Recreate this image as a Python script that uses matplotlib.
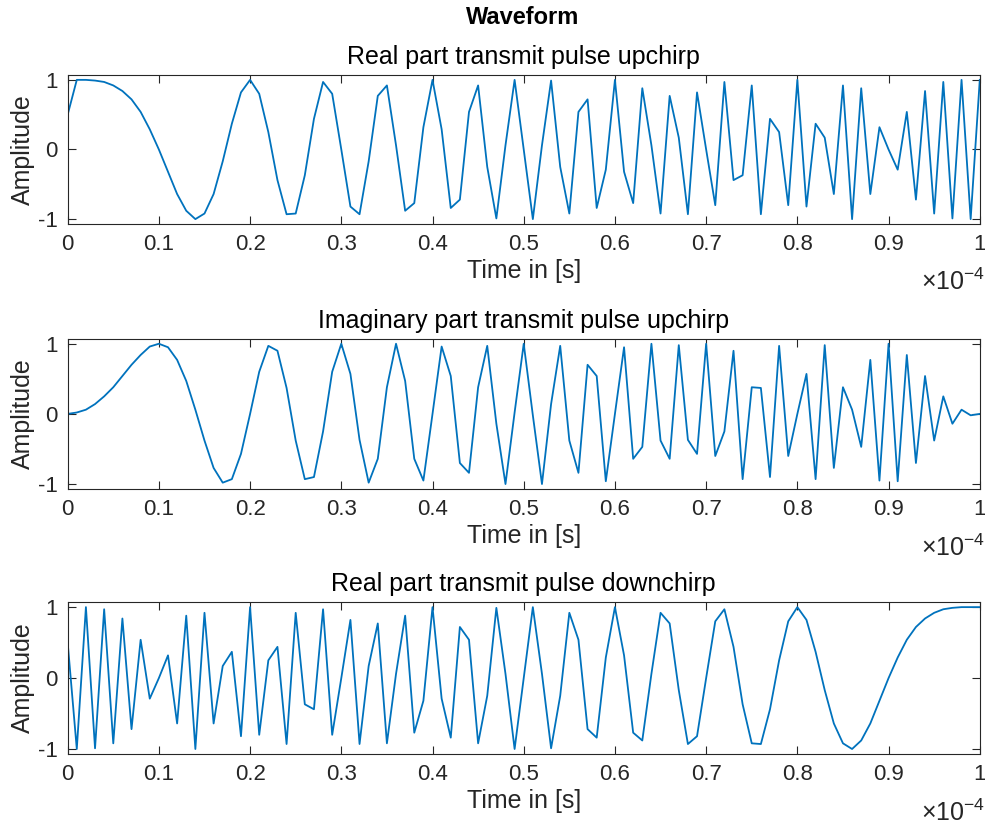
import numpy as np
import matplotlib.pyplot as plt
from matplotlib.ticker import FuncFormatter, MultipleLocator

plt.rcParams['font.family'] = ['Liberation Sans', 'DejaVu Sans']
plt.rcParams['axes.unicode_minus'] = False
plt.rcParams['mathtext.fontset'] = 'custom'
plt.rcParams['mathtext.rm'] = 'Liberation Sans'
plt.rcParams['mathtext.it'] = 'Liberation Sans'

# Sample times (1 MHz sampling, 101 samples)
t = np.arange(101) * 1e-6

# Real part of the upchirp
real_up = [0.50, 1.00, 1.00, 0.99, 0.97, 0.92, 0.84, 0.72, 0.54, 0.29,
           0.00, -0.32, -0.64, -0.88, -1.00, -0.92, -0.64, -0.17, 0.37, 0.82,
           1.00, 0.80, 0.25, -0.44, -0.93, -0.92, -0.37, 0.44, 0.97, 0.80,
           0.00, -0.82, -0.93, -0.17, 0.77, 0.92, 0.06, -0.88, -0.77, 0.32,
           1.00, 0.29, -0.84, -0.72, 0.54, 0.92, -0.25, -0.99, 0.06, 1.00,
           0.00, -1.00, 0.06, 0.99, -0.25, -0.92, 0.54, 0.72, -0.84, -0.29,
           1.00, -0.32, -0.77, 0.88, 0.06, -0.92, 0.77, 0.17, -0.93, 0.82,
           0.00, -0.80, 0.97, -0.44, -0.37, 0.92, -0.93, 0.44, 0.25, -0.80,
           1.00, -0.82, 0.37, 0.17, -0.64, 0.92, -1.00, 0.88, -0.64, 0.32,
           0.00, -0.29, 0.54, -0.72, 0.84, -0.92, 0.97, -0.99, 1.00, -1.00,
           1.00]

# Imaginary part of the upchirp, middle panel
imag_up = [0.00, 0.02, 0.06, 0.14, 0.25, 0.38, 0.54, 0.70, 0.84, 0.96,
           1.00, 0.95, 0.77, 0.47, 0.06, -0.38, -0.77, -0.98, -0.93, -0.57,
           0.00, 0.60, 0.97, 0.90, 0.37, -0.38, -0.93, -0.90, -0.25, 0.60,
           1.00, 0.57, -0.37, -0.98, -0.64, 0.38, 1.00, 0.47, -0.64, -0.95,
           0.00, 0.96, 0.54, -0.70, -0.84, 0.38, 0.97, -0.14, -1.00, 0.02,
           1.00, -0.02, -1.00, 0.14, 0.97, -0.38, -0.84, 0.70, 0.54, -0.96,
           0.00, 0.95, -0.64, -0.47, 1.00, -0.38, -0.64, 0.98, -0.37, -0.57,
           1.00, -0.60, -0.25, 0.90, -0.93, 0.38, 0.37, -0.90, 0.97, -0.60,
           0.00, 0.57, -0.93, 0.98, -0.77, 0.38, 0.06, -0.47, 0.77, -0.95,
           1.00, -0.96, 0.84, -0.70, 0.54, -0.38, 0.25, -0.14, 0.06, -0.02,
           0.00]

# Real part of the downchirp, bottom panel
real_down = [0.50, -1.00, 1.00, -0.99, 0.97, -0.92, 0.84, -0.72, 0.54, -0.29,
             0.00, 0.32, -0.64, 0.88, -1.00, 0.92, -0.64, 0.17, 0.37, -0.82,
             1.00, -0.80, 0.25, 0.44, -0.93, 0.92, -0.37, -0.44, 0.97, -0.80,
             0.00, 0.82, -0.93, 0.17, 0.77, -0.92, 0.06, 0.88, -0.77, -0.32,
             1.00, -0.29, -0.84, 0.72, 0.54, -0.92, -0.25, 0.99, 0.06, -1.00,
             0.00, 1.00, 0.06, -0.99, -0.25, 0.92, 0.54, -0.72, -0.84, 0.29,
             1.00, 0.32, -0.77, -0.88, 0.06, 0.92, 0.77, -0.17, -0.93, -0.82,
             0.00, 0.80, 0.97, 0.44, -0.37, -0.92, -0.93, -0.44, 0.25, 0.80,
             1.00, 0.82, 0.37, -0.17, -0.64, -0.92, -1.00, -0.88, -0.64, -0.32,
             0.00, 0.29, 0.54, 0.72, 0.84, 0.92, 0.97, 0.99, 1.00, 1.00,
             1.00]

titles = ['Real part transmit pulse upchirp',
          'Imaginary part transmit pulse upchirp',
          'Real part transmit pulse downchirp']
series = [real_up, imag_up, real_down]

matlab_blue = '#0072BD'
dark = '#262626'

fig = plt.figure(figsize=(9.85, 8.25), dpi=100)
fig.text(0.531, 0.979, 'Waveform', ha='center', va='center',
         fontsize=17, fontweight='bold', color='black')

# axes boxes [left, bottom, width, height] in figure fractions
boxes = [[0.0687, 0.7285, 0.926, 0.1806],
         [0.0687, 0.4073, 0.926, 0.1820],
         [0.0687, 0.0861, 0.926, 0.1840]]

for box, y, title in zip(boxes, series, titles):
    ax = fig.add_axes(box)
    ax.plot(t, y, color=matlab_blue, lw=1.3)
    ax.set_xlim(0, 1e-4)
    ax.set_ylim(-1.07, 1.07)
    ax.xaxis.set_major_locator(MultipleLocator(1e-5))
    ax.xaxis.set_major_formatter(FuncFormatter(lambda v, p: f'{v * 1e4:g}'))
    ax.set_yticks([-1, 0, 1])
    ax.tick_params(direction='in', length=6, width=0.8, top=True, right=True,
                   labelsize=16, colors=dark, pad=7)
    for s in ax.spines.values():
        s.set_color(dark)
        s.set_linewidth(0.8)
    ax.set_title(title, fontsize=18, color='black', pad=8)
    ax.set_xlabel('Time in [s]', fontsize=18, color=dark, labelpad=3)
    ax.set_ylabel('Amplitude', fontsize=18, color=dark, labelpad=2)
    ax.text(1.006, -0.39, r'$\times10^{-4}$', transform=ax.transAxes,
            ha='right', va='center', fontsize=18, color=dark)

plt.savefig('out.png', dpi=100)
